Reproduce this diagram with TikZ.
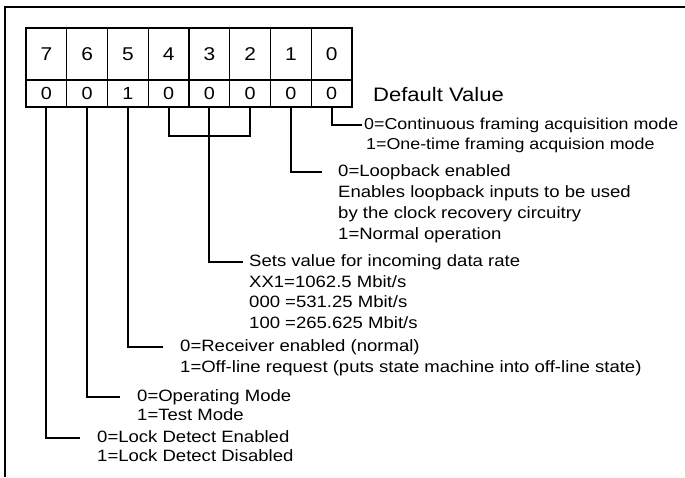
\documentclass[tikz,border=0pt]{standalone}
\usepackage{fontspec}
\setmainfont[FakeStretch=1.13]{Liberation Sans}
\usetikzlibrary{positioning}
\tikzset{
	x=1pt, y=-1pt,
	bitcell/.style={draw, line width=1.4pt, minimum width=40.75pt, minimum height=52pt, inner sep=0pt, font=\fontsize{18.5}{20}\selectfont},
	valcell/.style={draw, line width=1.4pt, minimum width=40.75pt, minimum height=27pt, inner sep=0pt, font=\fontsize{17.5}{19}\selectfont},
	txt/.style={anchor=west, inner sep=0pt, text height=12pt, text depth=3pt, font=\fontsize{16.4}{18}\selectfont},
	wire/.style={draw, line width=1.8pt}
}

\begin{document}
\begin{tikzpicture}
\useasboundingbox (0,0) rectangle (685,477);
% frame
\draw[line width=1.6pt] (5,477) -- (5,7) -- (685,7);
% register cells
\foreach \b/\v [count=\i from 0] in {7/0,6/0,5/1,4/0,3/0,2/0,1/0,0/0} {
	\node[bitcell] (b\b) at ({26+40.75*(\i+0.5)},54) {\b};
	\node[valcell] (v\b) at ({26+40.75*(\i+0.5)},93.5) {\v};
}
\node[txt, font=\fontsize{19.5}{21}\selectfont] (dv) at (373,97) {Default Value};
% descriptions
\node[txt, font=\fontsize{15.8}{18}\selectfont] (t0a) at (364,125) {0=Continuous framing acquisition mode};
\node[txt, font=\fontsize{15.8}{18}\selectfont] (t0b) at (366,145) {1=One-time framing acquision mode};
\node[txt] (t1a) at (338,172) {0=Loopback enabled};
\node[txt] (t1b) at (338,193) {Enables loopback inputs to be used};
\node[txt] (t1c) at (338,214) {by the clock recovery circuitry};
\node[txt] (t1d) at (338,235) {1=Normal operation};
\node[txt] (t3a) at (249,262) {Sets value for incoming data rate};
\node[txt] (t3b) at (249,283) {XX1=1062.5 Mbit/s};
\node[txt] (t3c) at (249,303) {000 =531.25 Mbit/s};
\node[txt] (t3d) at (249,324) {100 =265.625 Mbit/s};
\node[txt] (t5a) at (180,347) {0=Receiver enabled (normal)};
\node[txt] (t5b) at (180,368) {1=Off-line request (puts state machine into off-line state)};
\node[txt] (t6a) at (137,397) {0=Operating Mode};
\node[txt] (t6b) at (137,416) {1=Test Mode};
\node[txt] (t7a) at (97,438) {0=Lock Detect Enabled};
\node[txt] (t7b) at (97,457) {1=Lock Detect Disabled};
% connectors
\coordinate (brk) at (v4.south |- 0,136);
\draw[wire] (v0.south) |- ([xshift=-2pt]t0a.west);
\draw[wire] (v1.south) |- ([xshift=-16pt]t1a.west);
\draw[wire] (v4.south) -- (brk) -| (v2.south);
\draw[wire] (v3.south) |- ([xshift=-6pt]t3a.west);
\draw[wire] (v5.south) |- ([xshift=-17pt]t5a.west);
\draw[wire] (v6.south) |- ([xshift=-17pt]t6a.west);
\draw[wire] (v7.south) |- ([xshift=-17pt]t7a.west);
\end{tikzpicture}
\end{document}
